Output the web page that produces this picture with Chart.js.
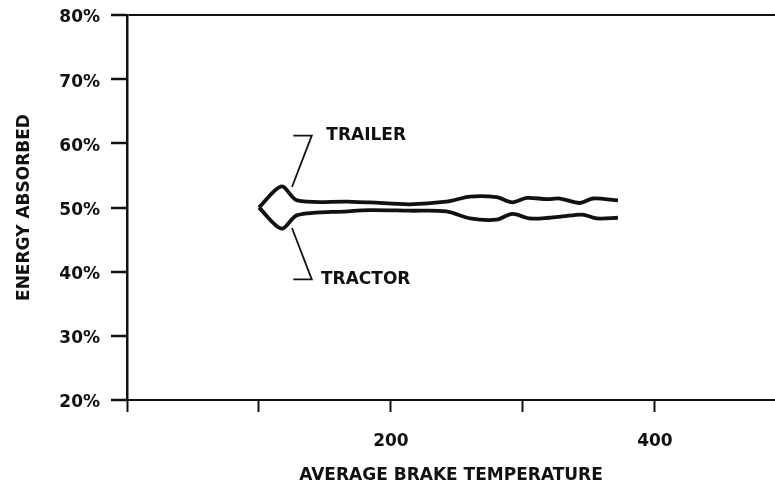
<!DOCTYPE html>
<html>
<head>
<meta charset="utf-8">
<script src="https://cdn.jsdelivr.net/npm/chart.js@4/dist/chart.umd.min.js"></script>
<style>
  html, body { margin: 0; padding: 0; background: #fff; }
  #wrap { width: 775px; height: 486px; }
</style>
</head>
<body>
<div id="wrap"><canvas id="myChart"></canvas></div>
<script>
// values (x = average brake temperature, y = % energy absorbed)
var trailerX = [100, 117, 129, 167, 184, 214, 242, 260, 280, 292, 303, 318, 328, 343, 353, 372];
var trailerY = [50.0, 53.3, 51.1, 50.9, 50.8, 50.5, 50.9, 51.7, 51.6, 50.8, 51.5, 51.3, 51.4, 50.7, 51.4, 51.1];
var tractorX = [100, 117, 129, 167, 184, 214, 242, 260, 280, 292, 305, 320, 330, 345, 356, 372];
var tractorY = [50.0, 46.7, 48.8, 49.4, 49.6, 49.5, 49.4, 48.3, 48.1, 49.0, 48.3, 48.4, 48.6, 48.9, 48.3, 48.4];

var xTicks = [0, 100, 200, 300, 400];
var xLabels = ['', '', '200', '', '400'];
var yTicks = [20, 30, 40, 50, 60, 70, 80];

// label leader lines, in data units
var trailerLeaderX = [126, 140, 125];
var trailerLeaderY = [61.2, 61.2, 53.2];
var tractorLeaderX = [126, 140, 125];
var tractorLeaderY = [38.8, 38.8, 46.8];
var seriesNames = ['TRAILER', 'TRACTOR'];
var nameX = [151, 147];
var nameY = [61.2, 38.8];

function pts(xs, ys) {
	return xs.map(function(x, i) { return { x: x, y: ys[i] }; });
}

var FONT = '"DejaVu Sans", sans-serif';

var labelPlugin = {
	id: 'seriesLabels',
	afterDatasetsDraw: function(chart) {
		var ctx = chart.ctx;
		var xs = chart.scales.x, ys = chart.scales.y;
		ctx.save();
		ctx.fillStyle = '#111';
		ctx.font = 'bold 17px ' + FONT;
		ctx.textAlign = 'left';
		ctx.textBaseline = 'middle';
		seriesNames.forEach(function(n, i) {
			ctx.fillText(n, xs.getPixelForValue(nameX[i]), ys.getPixelForValue(nameY[i]));
		});
		ctx.restore();
	}
};

var lineStyle = {
	borderColor: '#111',
	borderWidth: 3.8,
	pointRadius: 0,
	tension: 0.3,
	fill: false
};
var leaderStyle = {
	borderColor: '#111',
	borderWidth: 1.8,
	pointRadius: 0,
	tension: 0,
	fill: false
};

var ctx = document.getElementById('myChart');
var myChart = new Chart(ctx, {
	type: 'scatter',
	data: {
		datasets: [
			Object.assign({ label: 'Trailer', data: pts(trailerX, trailerY), showLine: true }, lineStyle),
			Object.assign({ label: 'Tractor', data: pts(tractorX, tractorY), showLine: true }, lineStyle),
			Object.assign({ label: 'l1', data: pts(trailerLeaderX, trailerLeaderY), showLine: true }, leaderStyle),
			Object.assign({ label: 'l2', data: pts(tractorLeaderX, tractorLeaderY), showLine: true }, leaderStyle)
		]
	},
	options: {
		responsive: true,
		maintainAspectRatio: false,
		animation: false,
		layout: { padding: { top: 15, right: 0, left: 0, bottom: 0 } },
		plugins: {
			legend: { display: false },
			tooltip: { enabled: false }
		},
		scales: {
			x: {
				type: 'linear',
				min: 0,
				max: 491,
				afterBuildTicks: function(scale) {
					scale.ticks = xTicks.map(function(v) { return { value: v }; });
				},
				afterFit: function(scale) { scale.height = 86; scale.paddingLeft = 0; scale.paddingRight = 0; },
				border: { color: '#111', width: 2 },
				grid: { drawOnChartArea: false, tickLength: 12, tickColor: '#111', tickWidth: 2 },
				ticks: {
					color: '#111',
					padding: 19,
					maxRotation: 0,
					font: { family: FONT, size: 17, weight: 'bold' },
					callback: function(v) {
						var i = xTicks.indexOf(v);
						return i >= 0 ? xLabels[i] : '';
					}
				},
				title: {
					display: true,
					text: 'AVERAGE BRAKE TEMPERATURE',
					color: '#111',
					font: { family: FONT, size: 17, weight: 'bold' },
					padding: { top: 0, bottom: 0 }
				}
			},
			y: {
				type: 'linear',
				min: 20,
				max: 80,
				afterBuildTicks: function(scale) {
					scale.ticks = yTicks.map(function(v) { return { value: v }; });
				},
				afterFit: function(scale) { scale.width = 127; scale.paddingTop = 0; scale.paddingBottom = 0; },
				border: { color: '#111', width: 2.5 },
				grid: {
					color: function(c) { return (c.tick && (c.tick.value === 80)) ? '#111' : 'rgba(0,0,0,0)'; },
					lineWidth: 2,
					tickLength: 16,
					tickColor: '#111',
					tickWidth: 2.5
				},
				ticks: {
					color: '#111',
					padding: 11,
					labelOffset: 3,
					font: { family: FONT, size: 17, weight: 'bold' },
					callback: function(v) { return v + '%'; }
				},
				title: {
					display: true,
					text: 'ENERGY ABSORBED',
					color: '#111',
					font: { family: FONT, size: 17, weight: 'bold' },
					padding: { top: 14, bottom: 0 }
				}
			}
		}
	},
	plugins: [labelPlugin]
});
</script>
</body>
</html>
